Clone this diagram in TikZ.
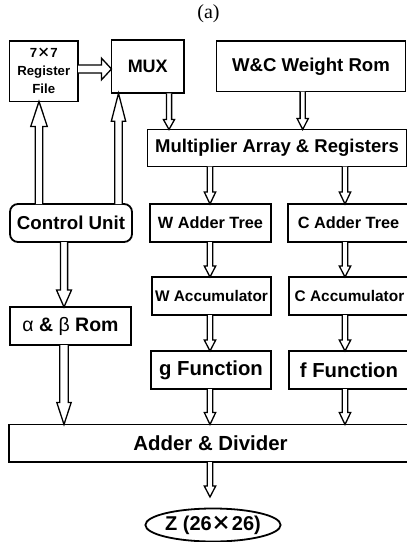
\documentclass[tikz,border=0pt]{standalone}
\usepackage{fontspec}
\setmainfont{Liberation Sans}
\newfontfamily\serifa{Liberation Serif}
\newfontfamily\cjk{Noto Sans CJK SC}
\usetikzlibrary{calc,shapes.geometric}
\newcommand\fs[1]{\fontsize{#1}{#1}\selectfont}
\newcommand\xx{{\cjk ×}}
% down arrow: #1 from, #2 to, #3 shaft half width, #4 head half width, #5 head length
\newcommand\darr[5]{\draw[blk] let \p1=#1, \p2=#2 in
  (\x1-#3pt,\y1) -- (\x1-#3pt,\y2+#5pt) -- (\x1-#4pt,\y2+#5pt) -- (\x1,\y2)
  -- (\x1+#4pt,\y2+#5pt) -- (\x1+#3pt,\y2+#5pt) -- (\x1+#3pt,\y1);}
\newcommand\uarr[5]{\draw[blk] let \p1=#1, \p2=#2 in
  (\x1-#3pt,\y1) -- (\x1-#3pt,\y2-#5pt) -- (\x1-#4pt,\y2-#5pt) -- (\x1,\y2)
  -- (\x1+#4pt,\y2-#5pt) -- (\x1+#3pt,\y2-#5pt) -- (\x1+#3pt,\y1);}
\newcommand\rarr[5]{\draw[blk] let \p1=#1, \p2=#2 in
  (\x1,\y1+#3pt) -- (\x2-#5pt,\y1+#3pt) -- (\x2-#5pt,\y1+#4pt) -- (\x2,\y1)
  -- (\x2-#5pt,\y1-#4pt) -- (\x2-#5pt,\y1-#3pt) -- (\x1,\y1-#3pt);}
\tikzset{
  box/.style={draw, line width=1.8pt, inner sep=0pt, outer sep=0pt, anchor=north west, font=\bfseries},
  blk/.style={draw, line width=1.3pt, fill=white, line join=miter},
}
\begin{document}
\begin{tikzpicture}[x=1pt,y=-1pt]
\useasboundingbox (0,0) rectangle (407,542);
\clip (0,0) rectangle (407,542);
\node[font=\serifa\fs{20}] (cap) at (208.5,14) {(a)};
\node[box, minimum width=68.5pt, minimum height=60.5pt, align=center, font=\bfseries\fontsize{13.2}{18}\selectfont] (reg) at (9.5,41) {7\xx7\\Register\\File};
\node[box, minimum width=72.5pt, minimum height=53.3pt, font=\bfseries\fs{18}] (mux) at (111.5,40) {MUX};
\node[box, minimum width=189pt, minimum height=50.5pt, font=\bfseries\fs{18.6}] (wc) at (216.5,41) {W\&C Weight Rom};
\node[box, minimum width=259pt, minimum height=37pt, font=\bfseries\fs{18.5}] (mult) at (147.5,129.5) {Multiplier Array \& Registers};
\node[box, rounded corners=8pt, minimum width=122pt, minimum height=38pt, font=\bfseries\fs{18.7}] (ctrl) at (10,204) {Control Unit};
\node[box, minimum width=121pt, minimum height=38pt, font=\bfseries\fs{16.3}] (wadd) at (150,204) {W Adder Tree};
\node[box, minimum width=121pt, minimum height=38pt, font=\bfseries\fs{16.3}] (cadd) at (288,204) {C Adder Tree};
\node[box, minimum width=119pt, minimum height=38pt, font=\bfseries\fs{15.4}] (wacc) at (152,277) {W Accumulator};
\node[box, minimum width=121pt, minimum height=38pt, font=\bfseries\fs{15.4}] (cacc) at (289,277) {C Accumulator};
\node[box, minimum width=121pt, minimum height=38pt, font=\bfseries\fs{19.5}] (rom) at (10,307) {{\mdseries α} \& {\mdseries β} Rom};
\node[box, minimum width=120pt, minimum height=38pt, font=\bfseries\fs{20.3}] (gfun) at (151,351) {g Function};
\node[box, minimum width=120pt, minimum height=38pt, font=\bfseries\fs{20.3}] (ffun) at (289,351) {f Function};
\node[box, minimum width=403pt, minimum height=37.5pt, font=\bfseries\fs{20.4}] (addiv) at (9,424.5) {Adder \& Divider};
\node[ellipse, draw, line width=1.8pt, inner sep=0pt, minimum width=128pt, minimum height=33pt, font=\bfseries\fs{20}] (z) at (213,525) {Z (26\xx26)};
\coordinate (zt) at (210,497);
% arrows
\rarr{(reg.east |- 0,69)}{(mux.west |- 0,69)}{4}{10.8}{10}
\uarr{(ctrl.north -| 39,0)}{(reg.south -| 39,0)}{3.8}{8.3}{25}
\uarr{(ctrl.north -| 118.5,0)}{(mux.south -| 118.5,0)}{3.8}{7.2}{28}
\darr{(mux.south -| 169,0)}{(mult.north -| 169,0)}{2.6}{5.6}{10}
\darr{(wc.south -| 302.7,0)}{(mult.north -| 302.7,0)}{2.6}{5.6}{11}
\darr{(mult.south -| 210,0)}{(wadd.north -| 210,0)}{2.7}{5.7}{12}
\darr{(mult.south -| 345,0)}{(cadd.north -| 345,0)}{2.7}{5.7}{12}
\darr{(wadd.south -| 210,0)}{(wacc.north -| 210,0)}{2.7}{5.7}{11}
\darr{(cadd.south -| 345,0)}{(cacc.north -| 345,0)}{2.7}{5.7}{11}
\darr{(wacc.south -| 210,0)}{(gfun.north -| 210,0)}{2.7}{5.7}{11}
\darr{(cacc.south -| 345,0)}{(ffun.north -| 345,0)}{2.7}{5.7}{11}
\darr{(gfun.south -| 210,0)}{(addiv.north -| 210,0)}{2.7}{5.7}{12}
\darr{(ffun.south -| 345,0)}{(addiv.north -| 345,0)}{2.7}{5.7}{12}
\darr{(ctrl.south -| 64,0)}{(rom.north -| 64,0)}{3.6}{7.5}{17}
\darr{(rom.south -| 64,0)}{(addiv.north -| 64,0)}{4.2}{7.2}{22}
\darr{(addiv.south -| 210,0)}{(zt)}{2.7}{5.7}{11}
\end{tikzpicture}
\end{document}
